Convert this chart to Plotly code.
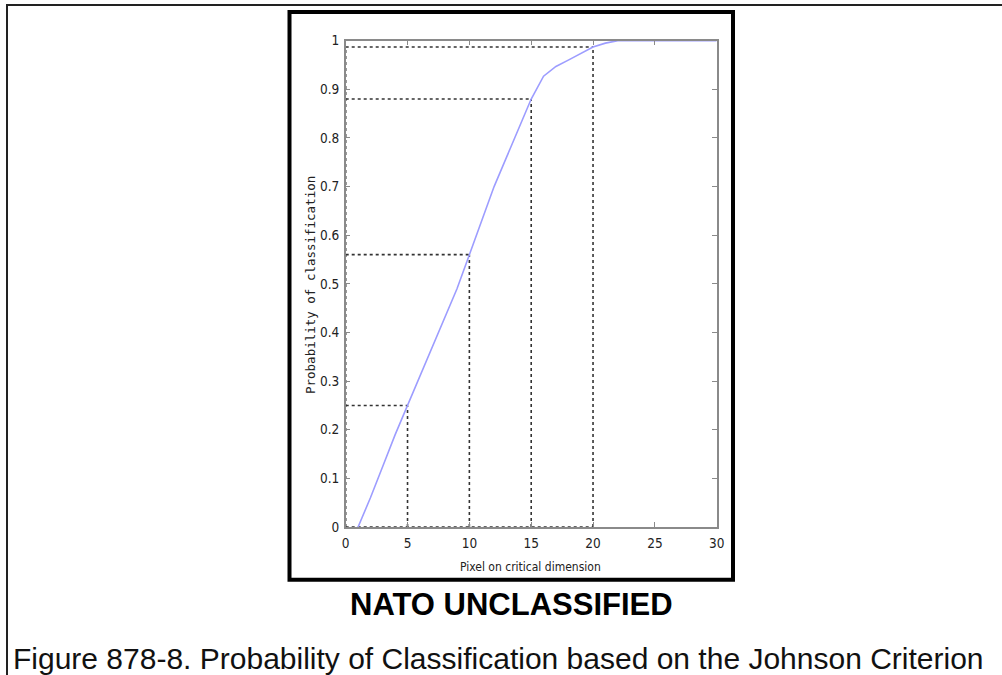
import plotly.graph_objects as go

# Data
pixels = [1, 2, 3, 4, 5, 6, 7, 8, 9, 10, 11, 12, 13, 14, 15, 16, 17, 18, 19, 20, 21, 22, 30]
probability = [0.0, 0.06, 0.125, 0.19, 0.25, 0.31, 0.37, 0.43, 0.49, 0.56, 0.63, 0.70, 0.76,
               0.82, 0.88, 0.927, 0.947, 0.960, 0.973, 0.987, 0.995, 1.0, 1.0]
guide_x = [5, 10, 15, 20]
guide_y = [0.25, 0.56, 0.88, 0.987]
x_ticks = [0, 5, 10, 15, 20, 25, 30]
y_ticks = [0, 0.1, 0.2, 0.3, 0.4, 0.5, 0.6, 0.7, 0.8, 0.9, 1]
y_tick_text = ["0", "0.1", "0.2", "0.3", "0.4", "0.5", "0.6", "0.7", "0.8", "0.9", "1"]

W, H = 1002, 675
NARROW = "Liberation Sans Narrow, DejaVu Sans Condensed, Liberation Sans, sans-serif"
DOT = dict(color="#333333", width=1.6, dash="dot")


def px(x):
    return x / W


def py(y):
    return 1 - y / H


fig = go.Figure()

# dotted guide lines
for gx, gy in zip(guide_x, guide_y):
    fig.add_trace(go.Scatter(x=[0, gx], y=[gy, gy], mode="lines", line=DOT, hoverinfo="skip"))
    fig.add_trace(go.Scatter(x=[gx, gx], y=[0, gy], mode="lines", line=DOT, hoverinfo="skip"))
fig.add_trace(go.Scatter(x=[0, 0], y=[0, max(guide_y)], mode="lines", line=DOT, hoverinfo="skip"))
fig.add_trace(go.Scatter(x=[0, max(guide_x)], y=[0, 0], mode="lines", line=DOT, hoverinfo="skip"))

# probability curve
fig.add_trace(go.Scatter(x=pixels, y=probability, mode="lines",
                         line=dict(color="#9d9dff", width=1.6), name="P"))

axis_common = dict(showgrid=False, zeroline=False, showline=True, linecolor="#8a8a8a",
                   linewidth=1.5, mirror="ticks", ticks="inside", ticklen=5,
                   tickcolor="#8a8a8a", tickwidth=1, automargin=False,
                   tickfont=dict(family=NARROW, size=13.5, color="#222222"))

fig.update_layout(
    width=W, height=H, autosize=False,
    margin=dict(l=0, r=0, t=0, b=0, pad=0, autoexpand=False),
    paper_bgcolor="white", plot_bgcolor="white",
    showlegend=False,
    xaxis=dict(range=[0, 30], tickvals=x_ticks, domain=[px(345.7), px(716.7)],
               ticklabelstandoff=3, **axis_common),
    yaxis=dict(range=[0, 1], tickvals=y_ticks, ticktext=y_tick_text,
               domain=[py(527), py(40.7)], ticklabelstandoff=2, **axis_common),
)

# outer frame (only its top and left edges are inside the picture)
fig.add_shape(type="line", xref="paper", yref="paper",
              x0=px(6), x1=1, y0=py(5), y1=py(5), line=dict(color="#222222", width=2))
fig.add_shape(type="line", xref="paper", yref="paper",
              x0=px(7), x1=px(7), y0=py(5), y1=0, line=dict(color="#222222", width=2))
# inner thick frame
fig.add_shape(type="rect", xref="paper", yref="paper",
              x0=px(289.5), x1=px(733), y0=py(579.7), y1=py(12),
              line=dict(color="#000000", width=4))

# texts
fig.add_annotation(text="Pixel on critical dimension", xref="paper", yref="paper",
                   x=px(530), y=py(567), xanchor="center", yanchor="middle", showarrow=False,
                   font=dict(family=NARROW, size=12, color="#222222"))
fig.add_annotation(text="Probability of classification", xref="paper", yref="paper",
                   x=px(310), y=py(285), xanchor="center", yanchor="middle",
                   showarrow=False, textangle=-90,
                   font=dict(family="DejaVu Sans Mono", size=12.5, color="#222222"))
fig.add_annotation(text="<b>NATO UNCLASSIFIED</b>", xref="paper", yref="paper",
                   x=px(512), y=py(604), xanchor="center", yanchor="middle", showarrow=False,
                   font=dict(family="Liberation Sans, Arial, sans-serif", size=31, color="#000000"))
fig.add_annotation(text="Figure 878-8. Probability of Classification based on the Johnson Criterion",
                   xref="paper", yref="paper", x=px(11), y=py(658),
                   xanchor="left", yanchor="middle", showarrow=False,
                   font=dict(family="Liberation Sans, Arial, sans-serif", size=30, color="#111111"))

fig.write_html("out.html", config={"displayModeBar": False},
               post_script="document.body.style.margin='0';document.body.style.overflow='hidden';")
